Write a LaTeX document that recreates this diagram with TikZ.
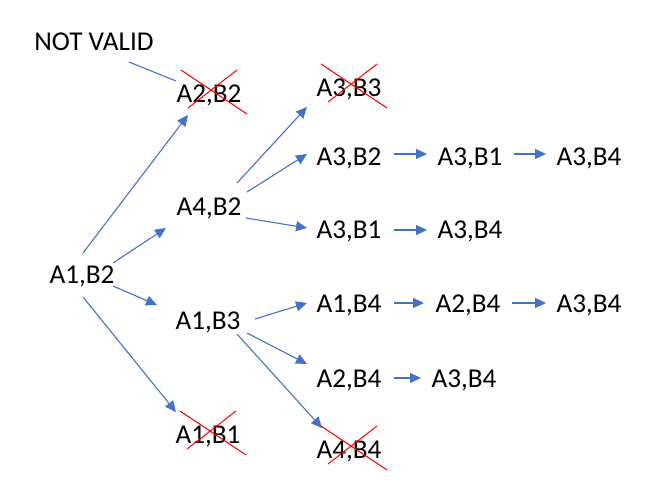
\documentclass[tikz,border=0pt]{standalone}
\usepackage{fontspec}
\setmainfont{Carlito}
\usetikzlibrary{arrows.meta,calc}
\definecolor{arrblue}{HTML}{4472C4}
\newcommand\crossout[1]{%
  \draw[xline] ($(#1.base)+(-28,-32)$) -- ($(#1.base)+(38,12)$);
  \draw[xline] ($(#1.base)+(28,-32)$) -- ($(#1.base)+(-21,6)$);}
\begin{document}
\begin{tikzpicture}[x=0.5pt,y=-0.5pt,
  lbl/.style={anchor=base,inner sep=0pt,font=\fontsize{13.6}{16}\selectfont},
  arr/.style={draw=arrblue,line width=0.55pt,-{Triangle[length=5.5pt,width=5pt]}},
  plainline/.style={draw=arrblue,line width=0.55pt},
  xline/.style={draw=red,line width=0.5pt}]
\useasboundingbox (0,0) rectangle (660,483);
% labels
\node[lbl] (nv)    at (94,50)   {NOT VALID};
\node[lbl] (a2b2)  at (209,102) {A2,B2};
\node[lbl] (a1b2)  at (82,283)  {A1,B2};
\node[lbl] (a4b2)  at (209,215) {A4,B2};
\node[lbl] (a1b3)  at (208,329) {A1,B3};
\node[lbl] (a1b1)  at (208,443) {A1,B1};
\node[lbl] (a3b3)  at (349,96)  {A3,B3};
\node[lbl] (a3b2)  at (349,165) {A3,B2};
\node[lbl] (a3b1x) at (470,165) {A3,B1};
\node[lbl] (a3b4x) at (589,165) {A3,B4};
\node[lbl] (a3b1)  at (349,238) {A3,B1};
\node[lbl] (a3b4y) at (470,238) {A3,B4};
\node[lbl] (a1b4)  at (349,312) {A1,B4};
\node[lbl] (a2b4)  at (468,312) {A2,B4};
\node[lbl] (a3b4z) at (589,312) {A3,B4};
\node[lbl] (a2b4b) at (349,387) {A2,B4};
\node[lbl] (a3b4w) at (464,387) {A3,B4};
\node[lbl] (a4b4)  at (349,458) {A4,B4};
% connectors
\draw[plainline] ($(nv.base)+(35,12)$) -- ($(a2b2.base)+(-33,-21)$);
\draw[arr] ($(a1b2.base)+(1,-30)$) -- ($(a2b2.base)+(-21,13)$);
\draw[arr] ($(a1b2.base)+(31,-20)$) -- ($(a4b2.base)+(-43,13)$);
\draw[arr] ($(a1b2.base)+(31,3)$) -- ($(a1b3.base)+(-51,-24)$);
\draw[arr] ($(a1b2.base)+(1,14)$) -- ($(a1b1.base)+(-32,-31)$);
\draw[arr] ($(a4b2.base)+(28,-32)$) -- ($(a3b3.base)+(-42,11)$);
\draw[arr] ($(a4b2.base)+(38,-23)$) -- ($(a3b2.base)+(-42,-11)$);
\draw[arr] ($(a4b2.base)+(37,3)$) -- ($(a3b1.base)+(-42,-10)$);
\draw[arr] ($(a1b3.base)+(47,-10)$) -- ($(a1b4.base)+(-42,-9)$);
\draw[arr] ($(a1b3.base)+(39,4)$) -- ($(a2b4b.base)+(-42,-23)$);
\draw[arr] ($(a1b3.base)+(29,5)$) -- ($(a4b4.base)+(-27,-30)$);
\draw[arr] ($(a3b2.base)+(45,-11)$) -- ($(a3b1x.base)+(-43,-11)$);
\draw[arr] ($(a3b1x.base)+(44,-11)$) -- ($(a3b4x.base)+(-43,-11)$);
\draw[arr] ($(a3b1.base)+(45,-8)$) -- ($(a3b4y.base)+(-43,-8)$);
\draw[arr] ($(a1b4.base)+(45,-9)$) -- ($(a2b4.base)+(-44,-9)$);
\draw[arr] ($(a2b4.base)+(44,-9)$) -- ($(a3b4z.base)+(-43,-9)$);
\draw[arr] ($(a2b4b.base)+(45,-9)$) -- ($(a3b4w.base)+(-43,-9)$);
% crosses
\crossout{a2b2}
\crossout{a3b3}
\crossout{a1b1}
\crossout{a4b4}
\end{tikzpicture}
\end{document}
